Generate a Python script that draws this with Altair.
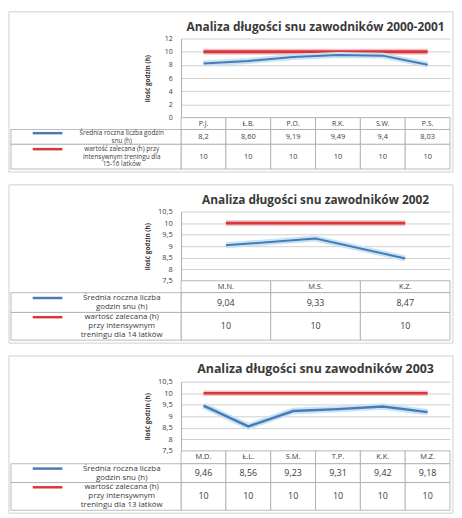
import altair as alt
import pandas as pd

FONT = "Open Sans"
TXT = "#3a3a3a"
BORDER = "#cfcfcf"
GRID = "#c4c4c4"
BLUE = "#4a7ab5"
BLUE_GLOW = "#c6e4f6"
RED = "#d8363f"
RED_GLOW = "#f3c2c6"

# ---------------- data ----------------
titles = [
    "Analiza długości snu zawodników 2000-2001",
    "Analiza długości snu zawodników 2002",
    "Analiza długości snu zawodników 2003",
]
y_title = "ilość godzin (h)"

cats_1 = ["P.J.", "Ł.B.", "P.O.", "R.K.", "S.W.", "P.S."]
avg_1 = ["8,2", "8,60", "9,19", "9,49", "9,4", "8,03"]
rec_1 = ["10", "10", "10", "10", "10", "10"]

cats_2 = ["M.N.", "M.S.", "K.Z."]
avg_2 = ["9,04", "9,33", "8,47"]
rec_2 = ["10", "10", "10"]

cats_3 = ["M.D.", "Ł.L.", "S.M.", "T.P.", "K.K.", "M.Z."]
avg_3 = ["9,46", "8,56", "9,23", "9,31", "9,42", "9,18"]
rec_3 = ["10", "10", "10", "10", "10", "10"]

leg_avg = [
    "Średnia roczna liczba godzin\nsnu (h)",
    "Średnia roczna liczba\ngodzin snu (h)",
    "Średnia roczna liczba\ngodzin snu (h)",
]
leg_rec = [
    "wartość zalecana (h) przy\nintensywnym treningu dla\n15-16 latków",
    "wartość zalecana (h)\nprzy intensywnym\ntreningu dla 14 latków",
    "wartość zalecana (h)\nprzy intensywnym\ntreningu dla 13 latków",
]

y_ticks_1 = [0, 2, 4, 6, 8, 10, 12]
y_ticks_23 = [7.5, 8, 8.5, 9, 9.5, 10, 10.5]

# ---------------- layout ----------------
W = 272
LEFT = 174
RIGHT = 3
layouts = [
    dict(H=80, top=27, rows=[12, 15, 25], dom=[0, 12], ticks=y_ticks_1, title_fs=12,
         title_dy=12, cat_fs=7, tbl_fs=7.5, leg_fs=6.5, leg_lh=7.6, ylab_fs=7, red_w=3, blue_w=2),
    dict(H=70, top=27, rows=[12, 20, 28], dom=[7.5, 10.5], ticks=y_ticks_23, title_fs=12,
         title_dy=12, cat_fs=7.5, tbl_fs=9, leg_fs=8, leg_lh=9.2, ylab_fs=7.5, red_w=3, blue_w=2),
    dict(H=70, top=26, rows=[13, 19, 28], dom=[7.5, 10.5], ticks=y_ticks_23, title_fs=12.5,
         title_dy=13, cat_fs=7.5, tbl_fs=9, leg_fs=8, leg_lh=9.2, ylab_fs=7.5, red_w=2.5, blue_w=2.5),
]
panels_data = [(cats_1, avg_1, rec_1), (cats_2, avg_2, rec_2), (cats_3, avg_3, rec_3)]


def num(s):
    return float(s.replace(",", "."))


one = alt.Data(values=[{"k": 1}])


def make_panel(i):
    cats, avg, rec = panels_data[i]
    L = layouts[i]
    H = L["H"]
    top = L["top"]
    T = sum(L["rows"])

    df = pd.DataFrame({
        "cat": cats,
        "avg": [num(v) for v in avg],
        "rec": [num(v) for v in rec],
    })

    xs = alt.X("cat:N", sort=cats, scale=alt.Scale(domain=cats, padding=0.5), axis=None)
    yaxis = alt.Axis(
        values=L["ticks"], ticks=False, labelPadding=9, labelFontSize=L["ylab_fs"],
        labelColor=TXT, labelFont=FONT, labelExpr="replace(toString(datum.value), '.', ',')",
        gridColor=GRID, gridWidth=0.8, domainColor="#9a9a9a", domainWidth=0.8,
        title=y_title, titleFontSize=6.5, titleFont=FONT, titleColor=TXT, titleFontWeight="bold",
        titleX=-34, titleY=H / 2, titleAngle=270, titleAlign="center", titleBaseline="middle",
    )
    ys = lambda f: alt.Y(f, scale=alt.Scale(domain=L["dom"], nice=False, zero=False), axis=yaxis)

    base = alt.Chart(df)
    red_glow = base.mark_line(color=RED_GLOW, strokeWidth=L["red_w"] + 3).encode(x=xs, y=ys("rec:Q"))
    red = base.mark_line(color=RED, strokeWidth=L["red_w"]).encode(x=xs, y=ys("rec:Q"))
    blue_glow = base.mark_line(color=BLUE_GLOW, strokeWidth=L["blue_w"] + 4).encode(x=xs, y=ys("avg:Q"))
    blue = base.mark_line(color=BLUE, strokeWidth=L["blue_w"]).encode(x=xs, y=ys("avg:Q"))

    b_top = alt.Chart(one).mark_rule(color=BORDER, strokeWidth=1).encode(
        x=alt.value(-LEFT), x2=alt.value(W + RIGHT), y=alt.value(-top))
    b_l = alt.Chart(one).mark_rule(color=BORDER, strokeWidth=1).encode(
        x=alt.value(-LEFT), y=alt.value(-top), y2=alt.value(H))
    b_r = alt.Chart(one).mark_rule(color=BORDER, strokeWidth=1).encode(
        x=alt.value(W + RIGHT), y=alt.value(-top), y2=alt.value(H))
    title = alt.Chart(one).mark_text(
        text=titles[i], font=FONT, fontSize=L["title_fs"], fontWeight="bold", color=TXT,
        baseline="middle", align="center").encode(x=alt.value(W / 2), y=alt.value(-L["title_dy"]))

    line_chart = alt.layer(red_glow, red, blue_glow, blue, b_top, b_l, b_r, title).properties(
        width=W, height=H)

    # ---------- table ----------
    r = L["rows"]
    y0s = [0, r[0], r[0] + r[1]]
    y1s = [r[0], r[0] + r[1], T]
    rows = []
    for j, c in enumerate(cats):
        for k, txt in enumerate([c, avg[j], rec[j]]):
            rows.append(dict(cat=c, y0=y0s[k], y1=y1s[k], ym=(y0s[k] + y1s[k]) / 2, txt=txt,
                             fs=L["cat_fs"] if k == 0 else L["tbl_fs"]))
    tdf = pd.DataFrame(rows)
    tx = alt.X("cat:N", sort=cats, scale=alt.Scale(domain=cats, paddingInner=0, paddingOuter=0), axis=None)
    tys = alt.Scale(domain=[0, T], reverse=True, nice=False, zero=False)

    cells = alt.Chart(tdf).mark_rect(fill="white", stroke="#a8a8a8", strokeWidth=0.8).encode(
        x=tx, y=alt.Y("y0:Q", scale=tys, axis=None), y2="y1:Q")
    texts = alt.Chart(tdf).mark_text(font=FONT, color=TXT, baseline="middle").encode(
        x=tx, y=alt.Y("ym:Q", scale=tys, axis=None), text="txt:N",
        size=alt.Size("fs:Q", scale=None))

    lh = L["leg_lh"]
    legs = []
    for k, (lab, col) in enumerate([(leg_avg[i], BLUE), (leg_rec[i], RED)]):
        n = lab.count("\n") + 1
        ym = (y0s[k + 1] + y1s[k + 1]) / 2
        legs.append(dict(lab=lab, y0=y0s[k + 1], y1=y1s[k + 1],
                         sy=ym - (n - 1) * lh / 2, col=col))
    ldf = pd.DataFrame(legs)
    lcells = alt.Chart(ldf).mark_rect(fill="white", stroke="#a8a8a8", strokeWidth=0.8).encode(
        x=alt.value(-172), x2=alt.value(0), y=alt.Y("y0:Q", scale=tys, axis=None), y2="y1:Q")
    ltext = alt.Chart(ldf).mark_text(font=FONT, fontSize=L["leg_fs"], color=TXT, baseline="middle",
                                     align="center", lineBreak="\n", lineHeight=lh).encode(
        x=alt.value(-60), y=alt.Y("sy:Q", scale=tys, axis=None), text="lab:N")
    lsw = alt.Chart(ldf).mark_rule(strokeWidth=2.5).encode(
        x=alt.value(-150), x2=alt.value(-120), y=alt.Y("sy:Q", scale=tys, axis=None),
        color=alt.Color("col:N", scale=None))

    t_l = alt.Chart(one).mark_rule(color=BORDER, strokeWidth=1).encode(
        x=alt.value(-LEFT), y=alt.value(0), y2=alt.value(T + 3))
    t_r = alt.Chart(one).mark_rule(color=BORDER, strokeWidth=1).encode(
        x=alt.value(W + RIGHT), y=alt.value(0), y2=alt.value(T + 3))
    t_b = alt.Chart(one).mark_rule(color=BORDER, strokeWidth=1).encode(
        x=alt.value(-LEFT), x2=alt.value(W + RIGHT), y=alt.value(T + 3))

    table = alt.layer(cells, texts, lcells, lsw, ltext, t_l, t_r, t_b).properties(width=W, height=T)

    return alt.vconcat(line_chart, table, spacing=0, bounds="flush")


chart = alt.vconcat(*[make_panel(i) for i in range(3)], spacing=11).properties(
    padding=0, background="white"
).configure_view(stroke=None)

chart.save("out.html", embed_options={"renderer": "svg", "actions": False})
